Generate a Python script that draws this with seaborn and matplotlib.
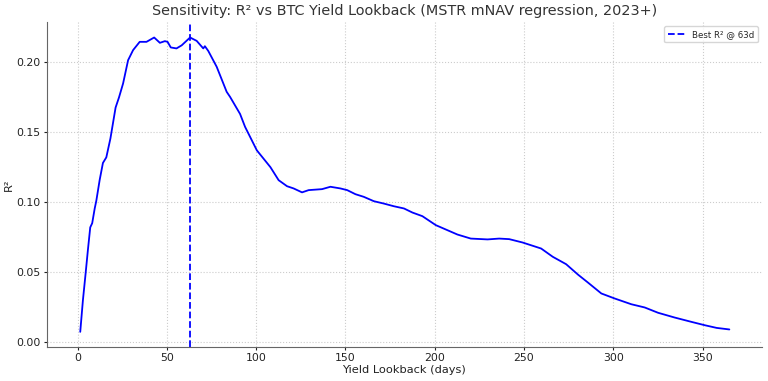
import matplotlib
matplotlib.use("Agg")
import matplotlib.pyplot as plt
import seaborn as sns
import pandas as pd

# lookback window (days) and R²
lookback_days = [1.5, 3, 4.5, 5.8, 7.1, 8.2, 9.6, 10.5, 12.4, 14.2, 16.1, 18.4, 21.3, 23.2, 25.5,
                 28.3, 31.1, 34.8, 38.6, 42.9, 46.1, 48.9, 50.4, 52.2, 55.4, 58.3, 63.0, 66.7,
                 70.4, 71.3, 73.2, 77.9, 83.5, 85.4, 91.0, 93.8, 100.4, 108.0, 112.6, 117.3,
                 121.0, 125.7, 129.4, 136.9, 141.6, 147.2, 151.0, 155.6, 160.3, 165.9, 171.5,
                 177.1, 182.8, 187.5, 193.1, 200.6, 207.1, 212.7, 220.2, 229.6, 236.1, 241.7,
                 249.2, 259.6, 266.1, 273.6, 280.2, 285.8, 293.3, 300.8, 310.1, 317.6, 325.1,
                 334.4, 343.8, 351.3, 357.9, 365.0]
r2_values = [0.0074, 0.030, 0.049, 0.066, 0.082, 0.085, 0.0955, 0.101, 0.116, 0.128, 0.132, 0.1455,
             0.1676, 0.1748, 0.1848, 0.2014, 0.2086, 0.2145, 0.2145, 0.2176, 0.2138, 0.2150,
             0.2145, 0.2105, 0.2098, 0.2120, 0.2176, 0.2152, 0.2098, 0.2114, 0.2080, 0.1967,
             0.1788, 0.1752, 0.1630, 0.1538, 0.1370, 0.1250, 0.1157, 0.1114, 0.1098, 0.1070,
             0.1086, 0.1093, 0.1110, 0.1098, 0.1086, 0.1057, 0.1038, 0.1007, 0.0990, 0.0971,
             0.0955, 0.0926, 0.0900, 0.0836, 0.0800, 0.0769, 0.0740, 0.0734, 0.0740, 0.0736,
             0.0712, 0.0669, 0.0610, 0.0557, 0.0483, 0.0426, 0.0348, 0.0312, 0.0271, 0.0248,
             0.0210, 0.0176, 0.0145, 0.0121, 0.0102, 0.0091]
best_lookback = 63

df = pd.DataFrame({"lookback": lookback_days, "r2": r2_values})

sns.set_style("whitegrid", {"grid.linestyle": ":", "grid.color": "#cccccc",
                            "axes.edgecolor": "#666666"})
plt.rcParams["font.family"] = ["DejaVu Sans"]

fig, ax = plt.subplots(figsize=(7.68, 3.81), dpi=100)
fig.subplots_adjust(left=0.061, right=0.992, top=0.942, bottom=0.089)

sns.lineplot(data=df, x="lookback", y="r2", color="blue", linewidth=1.3, ax=ax)
ax.axvline(best_lookback, color="blue", linestyle="--", linewidth=1.3,
           label=f"Best R² @ {best_lookback}d")

ax.set_title("Sensitivity: R² vs BTC Yield Lookback (MSTR mNAV regression, 2023+)",
             fontsize=10.4, color="#333333", pad=5)
ax.set_xlabel("Yield Lookback (days)", fontsize=8.2, color="#222222", labelpad=1)
ax.set_ylabel("R²", fontsize=8.2, color="#222222", labelpad=2)
ax.tick_params(labelsize=7.8, colors="#222222", length=2.5, bottom=True, left=True, pad=2)
ax.set_xticks([0, 50, 100, 150, 200, 250, 300, 350])
ax.set_yticks([0.0, 0.05, 0.10, 0.15, 0.20])
ax.yaxis.set_major_formatter(matplotlib.ticker.FormatStrFormatter("%.2f"))
ax.set_xlim(-17.2, 383.2)
ax.set_ylim(-0.0035, 0.2286)
sns.despine(ax=ax)
ax.legend(loc="upper right", fontsize=6.2, frameon=True)

fig.savefig("out.png", dpi=100)
